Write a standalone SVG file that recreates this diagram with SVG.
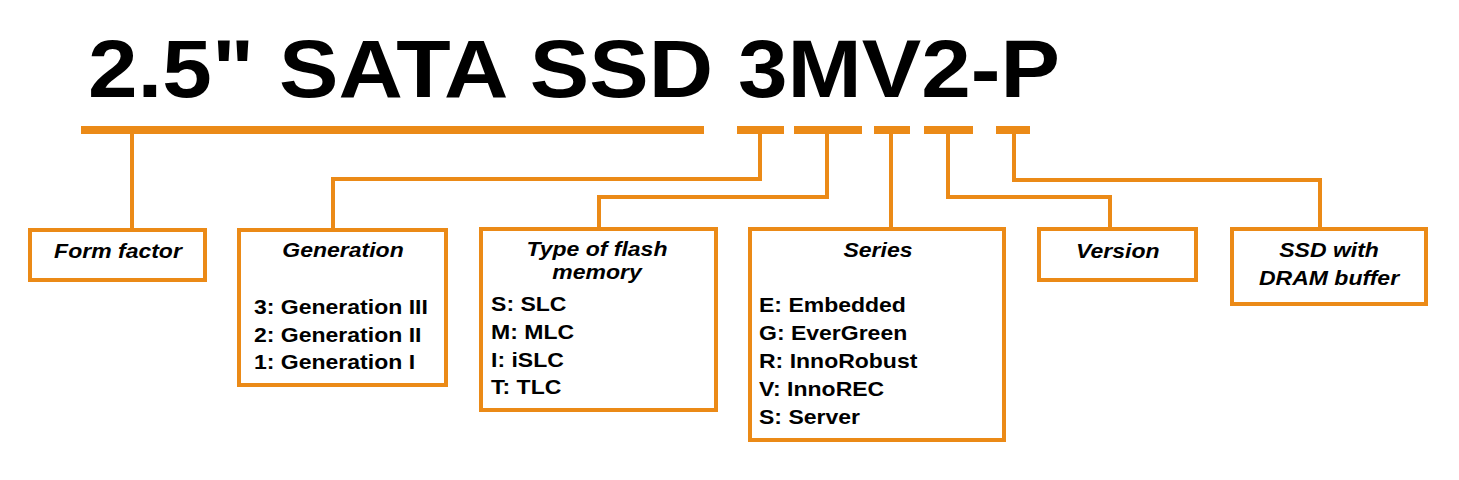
<svg xmlns="http://www.w3.org/2000/svg" width="1459" height="480" viewBox="0 0 1459 480">
<style>
.bar{fill:#EB8A17}
.box{fill:#fff;stroke:#EB8A17;stroke-width:4}
.con{fill:none;stroke:#EB8A17;stroke-width:4}
.t{font-family:"Liberation Sans",Arial,sans-serif;font-size:20px;font-weight:bold;fill:#000}
.h{font-style:italic;text-anchor:middle}
.title{font-family:"Liberation Sans",Arial,sans-serif;font-size:82px;font-weight:bold;fill:#000}
</style>
<rect width="1459" height="480" fill="#fff"/>
<g id="title">
<text class="title" x="88" y="97" textLength="972" lengthAdjust="spacingAndGlyphs">2.5" SATA SSD 3MV2-P</text>
</g>
<g id="bars">
<rect class="bar" x="81" y="126" width="623" height="8"/>
<rect class="bar" x="737" y="126" width="47" height="8"/>
<rect class="bar" x="794" y="126" width="68" height="8"/>
<rect class="bar" x="874" y="126" width="36" height="8"/>
<rect class="bar" x="924" y="126" width="49" height="8"/>
<rect class="bar" x="996" y="126" width="34" height="8"/>
</g>
<g id="connectors">
<path class="con" d="M132 133 V229"/>
<path class="con" d="M760 133 V179 H333 V229"/>
<path class="con" d="M827 133 V197 H599 V229"/>
<path class="con" d="M891 133 V229"/>
<path class="con" d="M948 133 V197 H1110 V229"/>
<path class="con" d="M1014 133 V180 H1320 V229"/>
</g>
<g id="form-factor">
<rect class="box" x="30" y="230" width="175" height="50"/>
<g transform="scale(1.15 1)"><text class="t h" x="102.6" y="258">Form factor</text></g>
</g>
<g id="generation">
<rect class="box" x="239" y="230" width="207" height="155"/>
<g transform="scale(1.15 1)">
<text class="t h" x="298.3" y="257">Generation</text>
<text class="t" x="220.9" y="314">3: Generation III</text>
<text class="t" x="220.9" y="342">2: Generation II</text>
<text class="t" x="220.9" y="369">1: Generation I</text>
</g>
</g>
<g id="flash">
<rect class="box" x="481" y="229" width="235" height="181"/>
<g transform="scale(1.15 1)">
<text class="t h" x="519.1" y="256">Type of flash</text>
<text class="t h" x="519.1" y="279">memory</text>
<text class="t" x="427" y="311">S: SLC</text>
<text class="t" x="427" y="339">M: MLC</text>
<text class="t" x="427" y="367">I: iSLC</text>
<text class="t" x="427" y="394">T: TLC</text>
</g>
</g>
<g id="series">
<rect class="box" x="750" y="229" width="254" height="211"/>
<g transform="scale(1.15 1)">
<text class="t h" x="763.5" y="257">Series</text>
<text class="t" x="660" y="312">E: Embedded</text>
<text class="t" x="660" y="340">G: EverGreen</text>
<text class="t" x="660" y="368">R: InnoRobust</text>
<text class="t" x="660" y="396">V: InnoREC</text>
<text class="t" x="660" y="424">S: Server</text>
</g>
</g>
<g id="version">
<rect class="box" x="1039" y="229" width="157" height="51"/>
<g transform="scale(1.15 1)"><text class="t h" x="972" y="258">Version</text></g>
</g>
<g id="dram">
<rect class="box" x="1232" y="229" width="194" height="75"/>
<g transform="scale(1.15 1)">
<text class="t h" x="1155.7" y="257">SSD with</text>
<text class="t h" x="1155.7" y="285">DRAM buffer</text>
</g>
</g>
</svg>
